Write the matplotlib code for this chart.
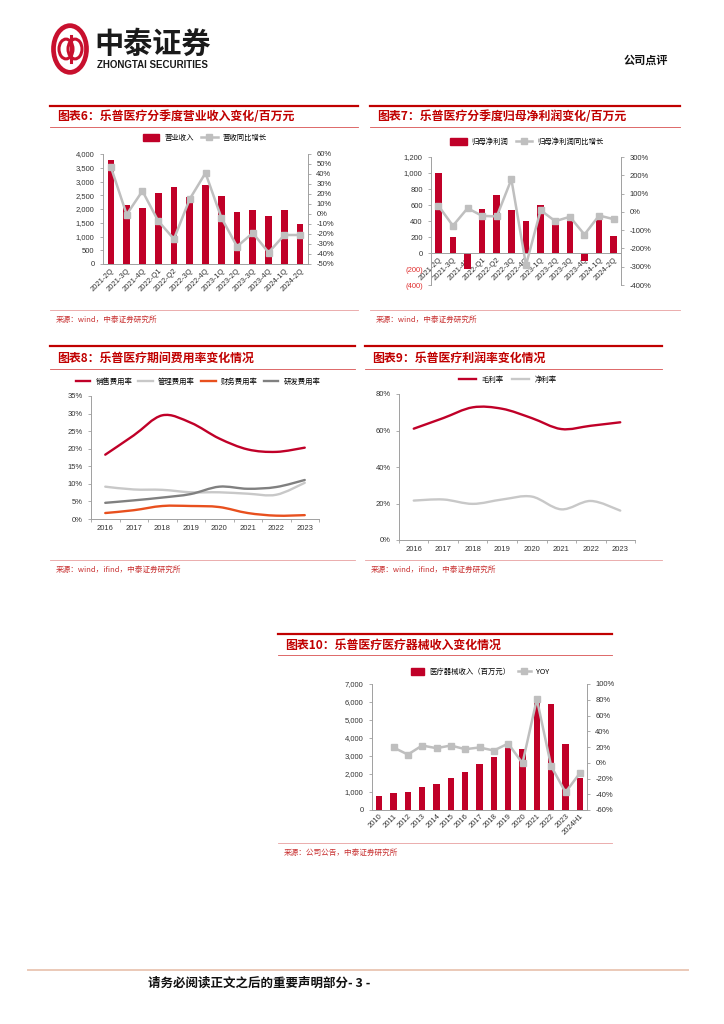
import matplotlib
matplotlib.use("Agg")
import matplotlib.pyplot as plt
import numpy as np
from matplotlib.lines import Line2D
from matplotlib.patches import Patch, Circle, PathPatch
from matplotlib.path import Path
from matplotlib.ticker import FuncFormatter

plt.rcParams['font.family'] = ['Liberation Sans', 'Noto Sans CJK SC', 'DejaVu Sans']
plt.rcParams['axes.unicode_minus'] = False

# ---- data ----
q_labels = ["2021-2Q", "2021-3Q", "2021-4Q", "2022-Q1", "2022-Q2", "2022-3Q", "2022-4Q",
            "2023-1Q", "2023-2Q", "2023-3Q", "2023-4Q", "2024-1Q", "2024-2Q"]
revenue = [3800, 2130, 2050, 2570, 2800, 2450, 2870, 2470, 1885, 1970, 1750, 1950, 1470]
revenue_yoy = [47, -0.5, 23, -7, -25, 15, 41, -3.5, -32.5, -19, -38.5, -21, -21]

profit = [1000, 200, -205, 545, 725, 540, 395, 595, 365, 395, -100, 480, 215]
profit_yoy = [34, -76, 20, -22, -25, 178, -291, 9, -51, -27, -124, -20, -40]

years = ["2016", "2017", "2018", "2019", "2020", "2021", "2022", "2023"]
sales_rate = [18.3, 23.8, 29.5, 27.4, 22.9, 19.8, 19.1, 20.3]
admin_rate = [9.2, 8.4, 8.3, 7.6, 7.6, 7.2, 6.9, 10.3]
fin_rate = [1.7, 2.5, 3.7, 3.7, 3.4, 1.7, 0.95, 1.1]
rd_rate = [4.6, 5.3, 6.1, 7.1, 9.2, 8.6, 9.1, 11.1]

gross_margin = [61.0, 66.8, 72.7, 71.9, 66.8, 60.8, 62.6, 64.5]
net_margin = [21.6, 22.2, 19.8, 22.2, 23.8, 16.8, 21.4, 16.1]

dev_labels = ["2010", "2011", "2012", "2013", "2014", "2015", "2016", "2017", "2018",
              "2019", "2020", "2021", "2022", "2023", "2024H1"]
dev_revenue = [780, 930, 1020, 1260, 1470, 1800, 2120, 2530, 2920, 3620, 3400, 6220, 5870, 3680, 1760]
dev_yoy = [np.nan, 19.4, 10.4, 21.9, 18.5, 21.9, 17.2, 19.4, 15.5, 24.4, -0.6, 80.9, -4.4, -37.5, -13.3]

RED = '#C00028'
GRAY = '#BFBFBF'
DGRAY = '#808080'
ORANGE = '#E8501E'
TITLE_RED = '#C00000'
TICK = '#333333'
AXC = '#A0A0A0'

W, H = 724, 1024
fig = plt.figure(figsize=(W / 100, H / 100), dpi=100)


def fx(x):
    return x / W


def fy(y):
    return 1 - y / H


def hline(x0, x1, y, lw, color):
    fig.add_artist(Line2D([fx(x0), fx(x1)], [fy(y), fy(y)], transform=fig.transFigure,
                          lw=lw, color=color))


def axes_px(x0, x1, y0, y1):
    return fig.add_axes([fx(x0), fy(y1), (x1 - x0) / W, (y1 - y0) / H])


def section(x0, x1, ytop, ytitle, ysub, ybot, title, source):
    hline(x0, x1, ytop, 1.6, TITLE_RED)
    fig.text(fx(x0 + 7), fy(ytitle), title, fontsize=8.6, fontweight='bold',
             color=TITLE_RED, va='center', ha='left', family=['Noto Sans CJK SC'])
    hline(x0, x1, ysub, 0.6, '#D85050')
    hline(x0, x1, ybot, 0.6, '#E8A0A0')
    fig.text(fx(x0 + 6), fy(ybot + 10), source, fontsize=5.5, color='#C83030',
             va='center', ha='left', family=['Noto Sans CJK SC'])


def style_ax(ax, right=False):
    ax.spines['top'].set_visible(False)
    for s in ['left', 'right', 'bottom']:
        ax.spines[s].set_color(AXC)
        ax.spines[s].set_linewidth(0.7)
    if not right:
        ax.spines['right'].set_visible(False)
    ax.tick_params(axis='both', labelsize=5.5, colors=AXC, labelcolor=TICK, length=2.5, width=0.6)


def smooth_path(xs, ys):
    pts = np.column_stack([xs, ys]).astype(float)
    verts = [pts[0]]
    codes = [Path.MOVETO]
    n = len(pts)
    for i in range(n - 1):
        p0 = pts[i - 1] if i > 0 else pts[i]
        p1 = pts[i]
        p2 = pts[i + 1]
        p3 = pts[i + 2] if i + 2 < n else pts[i + 1]
        verts += [p1 + (p2 - p0) / 6, p2 - (p3 - p1) / 6, p2]
        codes += [Path.CURVE4] * 3
    return Path(verts, codes)


def smooth_line(ax, xs, ys, color, lw):
    ax.add_patch(PathPatch(smooth_path(xs, ys), fill=False, edgecolor=color, lw=lw,
                           capstyle='round', joinstyle='round'))


def legend(handles, cx, cy, ncol, hl=2.2, cs=1.0):
    fig.legend(handles=handles, loc='center', bbox_to_anchor=(fx(cx), fy(cy)), ncol=ncol,
               frameon=False, handlelength=hl, handleheight=0.9, columnspacing=cs,
               handletextpad=0.7, prop={'family': ['Noto Sans CJK SC'], 'size': 5.3})


comma = FuncFormatter(lambda v, p: f"{v:,.0f}")
pct = FuncFormatter(lambda v, p: f"{v:.0f}%")

# ---- header ----
fig.add_artist(Circle((fx(70), fy(49)), 16.5 / W, transform=fig.transFigure,
                      fill=False, ec='#C8102E', lw=3.4))
fig.add_artist(Circle((fx(66), fy(49)), 7 / W, transform=fig.transFigure,
                      fill=False, ec='#C8102E', lw=2.2))
fig.add_artist(Circle((fx(75), fy(49)), 7 / W, transform=fig.transFigure,
                      fill=False, ec='#C8102E', lw=2.2))
fig.add_artist(Line2D([fx(70.5), fx(70.5)], [fy(36), fy(62)], transform=fig.transFigure,
                      color='#C8102E', lw=2.2))
fig.text(fx(94), fy(44), "中泰证券", fontsize=21, fontweight='bold', color='#1a1a1a',
         va='center', ha='left', family=['Noto Sans CJK SC'])
fig.text(fx(97), fy(64.5), "ZHONGTAI SECURITIES", fontsize=7, fontweight='bold',
         color='#1a1a1a', va='center', ha='left', family=['Liberation Sans'])
fig.text(fx(668), fy(60), "公司点评", fontsize=8, fontweight='bold', color='#111111',
         va='center', ha='right', family=['Noto Sans CJK SC'])

# ---- chart 6 ----
section(50, 358, 106, 117, 127, 310, "图表6：乐普医疗分季度营业收入变化/百万元",
        "来源：wind，中泰证券研究所")
ax = axes_px(103, 308, 154, 264)
x = np.arange(len(q_labels))
ax.bar(x, revenue, width=0.42, color=RED, zorder=2)
ax.set_xlim(-0.5, len(q_labels) - 0.5)
ax.set_ylim(0, 4000)
ax.set_yticks(np.arange(0, 4001, 500))
ax.yaxis.set_major_formatter(comma)
ax.set_xticks(x)
ax.set_xticklabels(q_labels, rotation=45, ha='right', rotation_mode='anchor')
style_ax(ax)
ax.tick_params(axis='x', length=0, pad=2)
ax2 = ax.twinx()
ax2.plot(x, revenue_yoy, color=GRAY, lw=1.8, marker='s', ms=4.5, zorder=3)
ax2.set_ylim(-50, 60)
ax2.set_yticks(np.arange(-50, 61, 10))
ax2.yaxis.set_major_formatter(pct)
style_ax(ax2, right=True)
ax2.spines['left'].set_visible(False)
ax2.spines['bottom'].set_visible(False)
legend([Patch(color=RED, label="营业收入"),
        Line2D([], [], color=GRAY, lw=1.8, marker='s', ms=4, label="营收同比增长")],
       205, 138, 2)

# ---- chart 7 ----
section(370, 680, 106, 117, 127, 310, "图表7：乐普医疗分季度归母净利润变化/百万元",
        "来源：wind，中泰证券研究所")
ax = axes_px(431, 621, 157, 285)
ax.spines['bottom'].set_position(('data', 0))
ax.bar(x, profit, width=0.45, color=RED, zorder=2)
ax.set_xlim(-0.5, len(q_labels) - 0.5)
ax.set_ylim(-400, 1200)
ax.set_yticks(np.arange(-400, 1201, 200))
ax.yaxis.set_major_formatter(FuncFormatter(lambda v, p: f"({abs(v):,.0f})" if v < 0 else f"{v:,.0f}"))
ax.set_xticks(x)
ax.set_xticklabels(q_labels, rotation=45, ha='right', rotation_mode='anchor')
style_ax(ax)
ax.tick_params(axis='x', length=0, pad=2)
for lab, v in zip(ax.get_yticklabels(), np.arange(-400, 1201, 200)):
    if v < 0:
        lab.set_color('#E03030')
ax2 = ax.twinx()
ax2.plot(x, profit_yoy, color=GRAY, lw=1.8, marker='s', ms=4.5, zorder=3)
ax2.set_ylim(-400, 300)
ax2.set_yticks(np.arange(-400, 301, 100))
ax2.yaxis.set_major_formatter(pct)
style_ax(ax2, right=True)
ax2.spines['left'].set_visible(False)
ax2.spines['bottom'].set_visible(False)
legend([Patch(color=RED, label="归母净利润"),
        Line2D([], [], color=GRAY, lw=1.8, marker='s', ms=4, label="归母净利润同比增长")],
       527, 142, 2)

# ---- chart 8 ----
section(50, 355, 346, 358, 369, 560, "图表8：乐普医疗期间费用率变化情况",
        "来源：wind，ifind，中泰证券研究所")
ax = axes_px(91, 319, 396, 519)
xy = np.arange(len(years))
series8 = [(sales_rate, RED, "销售费用率"), (admin_rate, '#C8C8C8', "管理费用率"),
           (fin_rate, ORANGE, "财务费用率"), (rd_rate, DGRAY, "研发费用率")]
for vals, c, lab in series8:
    smooth_line(ax, xy, vals, c, 1.7)
ax.set_xlim(-0.5, len(years) - 0.5)
ax.set_ylim(0, 35)
ax.set_yticks(np.arange(0, 36, 5))
ax.yaxis.set_major_formatter(pct)
ax.set_xticks(xy)
ax.set_xticklabels(years)
ax.set_xticks(np.arange(-0.5, len(years), 1), minor=True)
style_ax(ax)
ax.tick_params(axis='x', which='major', length=0, pad=4)
ax.tick_params(axis='x', which='minor', length=2.5, color=AXC)
legend([Line2D([], [], color=c, lw=1.7, label=lab) for _, c, lab in series8],
       198, 382, 4, hl=2.0, cs=0.8)

# ---- chart 9 ----
section(365, 662, 346, 358, 369, 560, "图表9：乐普医疗利润率变化情况",
        "来源：wind，ifind，中泰证券研究所")
ax = axes_px(399, 635, 394, 540)
smooth_line(ax, xy, gross_margin, RED, 1.7)
smooth_line(ax, xy, net_margin, '#C8C8C8', 1.7)
ax.set_xlim(-0.5, len(years) - 0.5)
ax.set_ylim(0, 80)
ax.set_yticks(np.arange(0, 81, 20))
ax.yaxis.set_major_formatter(pct)
ax.set_xticks(xy)
ax.set_xticklabels(years)
ax.set_xticks(np.arange(-0.5, len(years), 1), minor=True)
style_ax(ax)
ax.tick_params(axis='x', which='major', length=0, pad=4)
ax.tick_params(axis='x', which='minor', length=2.5, color=AXC)
legend([Line2D([], [], color=RED, lw=1.7, label="毛利率"),
        Line2D([], [], color='#C8C8C8', lw=1.7, label="净利率")],
       508, 380, 2, hl=2.3, cs=1.2)

# ---- chart 10 ----
section(278, 612, 634, 645, 655, 843, "图表10：乐普医疗医疗器械收入变化情况",
        "来源：公司公告，中泰证券研究所")
ax = axes_px(372, 587, 684, 810)
xd = np.arange(len(dev_labels))
ax.bar(xd, dev_revenue, width=0.42, color=RED, zorder=2)
ax.set_xlim(-0.5, len(dev_labels) - 0.5)
ax.set_ylim(0, 7000)
ax.set_yticks(np.arange(0, 7001, 1000))
ax.yaxis.set_major_formatter(comma)
ax.set_xticks(xd)
ax.set_xticklabels(dev_labels, rotation=45, ha='right', rotation_mode='anchor')
style_ax(ax)
ax.tick_params(axis='x', length=0, pad=2)
ax2 = ax.twinx()
ax2.plot(xd, dev_yoy, color=GRAY, lw=1.8, marker='s', ms=4.5, zorder=3)
ax2.set_ylim(-60, 100)
ax2.set_yticks(np.arange(-60, 101, 20))
ax2.yaxis.set_major_formatter(pct)
style_ax(ax2, right=True)
ax2.spines['left'].set_visible(False)
ax2.spines['bottom'].set_visible(False)
legend([Patch(color=RED, label="医疗器械收入（百万元）"),
        Line2D([], [], color=GRAY, lw=1.8, marker='s', ms=4, label="YOY")],
       480, 672, 2, hl=1.8, cs=1.0)

# ---- footer ----
hline(28, 688, 970, 1.4, '#EBC9B8')
fig.text(fx(148), fy(983), "请务必阅读正文之后的重要声明部分- 3 -", fontsize=9, fontweight='bold',
         color='#111111', va='center', ha='left', family=['Noto Sans CJK SC'])

fig.savefig("out.png", dpi=100)
